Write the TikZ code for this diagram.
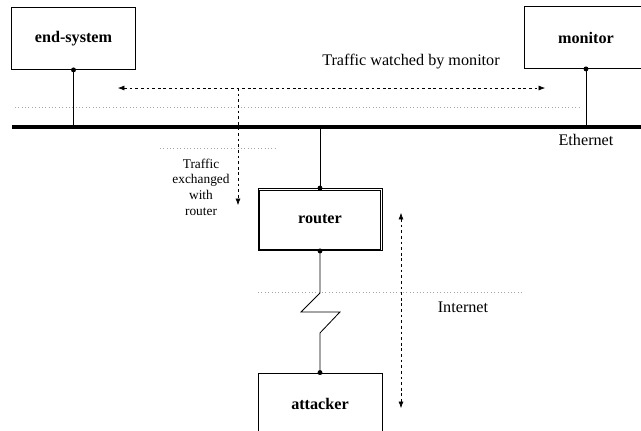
\documentclass[tikz,border=0pt]{standalone}
\usepackage{fontspec}
\setmainfont{Liberation Serif}
\usetikzlibrary{arrows.meta}

\tikzset{
  box/.style={draw,line width=.6pt,minimum width=3.1cm,minimum height=1.55cm,inner sep=0pt,
    font=\fontsize{11.5}{13}\selectfont\bfseries},
  lbl/.style={font=\fontsize{11.5}{11.2}\selectfont,inner sep=0pt},
  tip/.tip={Latex[length=4.5pt,width=3.5pt]},
  flow/.style={dash pattern=on 2pt off 2pt,-tip},
  region/.style={gray!70,dotted,line width=.4pt},
  joint/.style={circle,fill,inner sep=0pt,minimum size=3.5pt}
}

\begin{document}
\begin{tikzpicture}[x=0.025cm,y=-0.025cm]
        \useasboundingbox (0,0) rectangle (641,430);

        % hosts
        \node[box] (endsys) at (73.5,38.5) {end-system};
        \node[box] (monitor) at (586,37.5) {monitor};
        \node[box] (router) at (320,219.5) {router};
        \draw[line width=.6pt] ([shift={(2,2)}]router.north west) rectangle ([shift={(-2,-2)}]router.south east);
        \node[box] (attacker) at (320,404) {attacker};

        % ethernet bus
        \coordinate (busW) at (12,127);
        \coordinate (busE) at (650,127);
        \draw[line width=2.2pt] (busW) -- (busE);
        \node[lbl] (ether) at (586,140) {Ethernet};

        % region borders
        \draw[region] (15,107) -- (580,107);
        \draw[region] (160,148) -- (275,148);
        \draw[region] (258,292) -- (522,292);

        % links
        \draw[line width=.6pt] (endsys.south) -- (endsys.south |- busW);
        \draw[line width=.6pt] (monitor.south) -- (monitor.south |- busW);
        \draw[line width=.6pt] (router.north |- busW) -- (router.north);
        \draw[line width=.6pt] (router.south) -- ++(0,42) -- ++(-19,19) -- ++(39,0)
              -- ++(-20,21) -- (attacker.north);
        \foreach \n in {endsys.south,monitor.south,router.north,router.south,attacker.north} {
          \node[joint] at (\n) {};
        }

        % traffic
        \coordinate (watchL) at (118,88);
        \coordinate (watchR) at (545,88);
        \coordinate (exchA) at (238,88);
        \coordinate (exchB) at (238,205);
        \coordinate (netA) at (401,213);
        \coordinate (netB) at (401,408);
        \draw[flow,tip-tip] (watchL) -- (watchR);
        \draw[flow] (exchA) -- (exchB);
        \draw[flow,tip-tip] (netA) -- (netB);

        \node[lbl] (watch) at (411,62) {Traffic watched by monitor};
        \node[lbl,align=center,font=\fontsize{9.5}{11.2}\selectfont] (exch) at (201,187) {Traffic\\exchanged\\with\\router};
        \node[lbl] (inet) at (463,307) {Internet};
    \end{tikzpicture}
\end{document}
